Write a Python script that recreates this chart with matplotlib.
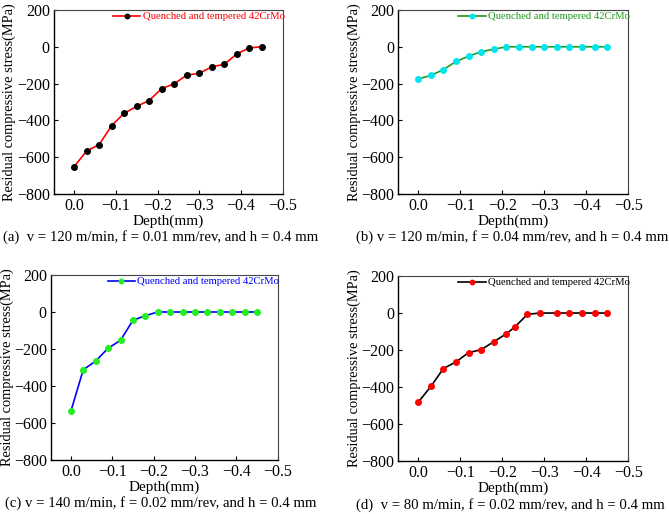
import matplotlib
matplotlib.use("Agg")
import matplotlib.pyplot as plt

plt.rcParams['font.family'] = ['Liberation Serif', 'DejaVu Serif']
plt.rcParams['mathtext.fontset'] = 'stix'

depth_a = [0.0, -0.03, -0.06, -0.09, -0.12, -0.15, -0.18, -0.21, -0.24, -0.27, -0.30, -0.33, -0.36, -0.39, -0.42, -0.45]
stress_a = [-652, -567, -532, -429, -361, -324, -292, -227, -201, -154, -144, -109, -95, -39, -6, 0]

depth_b = [0.0, -0.03, -0.06, -0.09, -0.12, -0.15, -0.18, -0.21, -0.24, -0.27, -0.30, -0.33, -0.36, -0.39, -0.42, -0.45]
stress_b = [-175, -156, -124, -80, -51, -27, -13, 0, 0, 0, 0, 0, 0, 0, 0, 0]

depth_c = [0.0, -0.03, -0.06, -0.09, -0.12, -0.15, -0.18, -0.21, -0.24, -0.27, -0.30, -0.33, -0.36, -0.39, -0.42, -0.45]
stress_c = [-537, -312, -265, -196, -153, -45, -20, 0, 0, 0, 0, 0, 0, 0, 0, 0]

depth_d = [0.0, -0.03, -0.06, -0.09, -0.12, -0.15, -0.18, -0.21, -0.23, -0.26, -0.29, -0.33, -0.36, -0.39, -0.42, -0.45]
stress_d = [-482, -397, -300, -264, -214, -198, -155, -112, -76, -7, 0, 0, 0, 0, 0, 0]

legend_label = "Quenched and tempered 42CrMo"
captions = ["(a)  v = 120 m/min, f = 0.01 mm/rev, and h = 0.4 mm",
            "(b) v = 120 m/min, f = 0.04 mm/rev, and h = 0.4 mm",
            "(c) v = 140 m/min, f = 0.02 mm/rev, and h = 0.4 mm",
            "(d)  v = 80 m/min, f = 0.02 mm/rev, and h = 0.4 mm"]
xticks = [0.0, -0.1, -0.2, -0.3, -0.4, -0.5]
yticks = [-800, -600, -400, -200, 0, 200]

fig = plt.figure(figsize=(6.69, 5.14), dpi=100)

panels = [
    (depth_a, stress_a, 'red', 'black', [0.0807, 0.6226, 0.342, 0.358], (0.005, 0.538), -0.166),
    (depth_b, stress_b, '#1f9a1f', '#00e5ee', [0.595, 0.6226, 0.344, 0.358], (0.532, 0.538), -0.161),
    (depth_c, stress_c, 'blue', '#22ee22', [0.0762, 0.105, 0.339, 0.36], (0.008, 0.022), -0.163),
    (depth_d, stress_d, 'black', 'red', [0.595, 0.103, 0.344, 0.36], (0.532, 0.018), -0.161),
]

for (x, y, lc, mc, pos, cpos, ylx), cap in zip(panels, captions):
    ax = fig.add_axes(pos)
    ax.plot(x, y, color=lc, lw=1.2, marker='o', markersize=4,
            markerfacecolor=mc, markeredgecolor=mc, label=legend_label)
    ax.set_xlim(0.048, -0.5)
    ax.set_ylim(-800, 200)
    ax.set_xticks(xticks)
    ax.set_yticks(yticks)
    ax.set_xticklabels(['0.0', '\u22120.1', '\u22120.2', '\u22120.3', '\u22120.4', '\u22120.5'])
    ax.set_yticklabels(['\u2212800', '\u2212600', '\u2212400', '\u2212200', '0', '200'])
    ax.tick_params(direction='in', length=3, width=0.8, labelsize=11.5, pad=3)
    for s in ['left', 'bottom']:
        ax.spines[s].set_linewidth(1.0)
    for s in ['top', 'right']:
        ax.spines[s].set_linewidth(0.8)
        ax.spines[s].set_color('#444444')
    ax.set_xlabel('Depth(mm)', fontsize=11, labelpad=0)
    ax.set_ylabel('Residual compressive stress(MPa)', fontsize=10.4)
    ax.yaxis.set_label_coords(ylx, 0.5)
    ax.legend(loc='upper right', bbox_to_anchor=(1.04, 1.03), frameon=False,
              fontsize=7.7, labelcolor=lc, handlelength=2.6, handletextpad=0.2,
              borderpad=0.2, markerscale=0.8)
    fig.text(cpos[0], cpos[1], cap, fontsize=10.6, ha='left', va='center')

fig.savefig('out.png', dpi=100)
